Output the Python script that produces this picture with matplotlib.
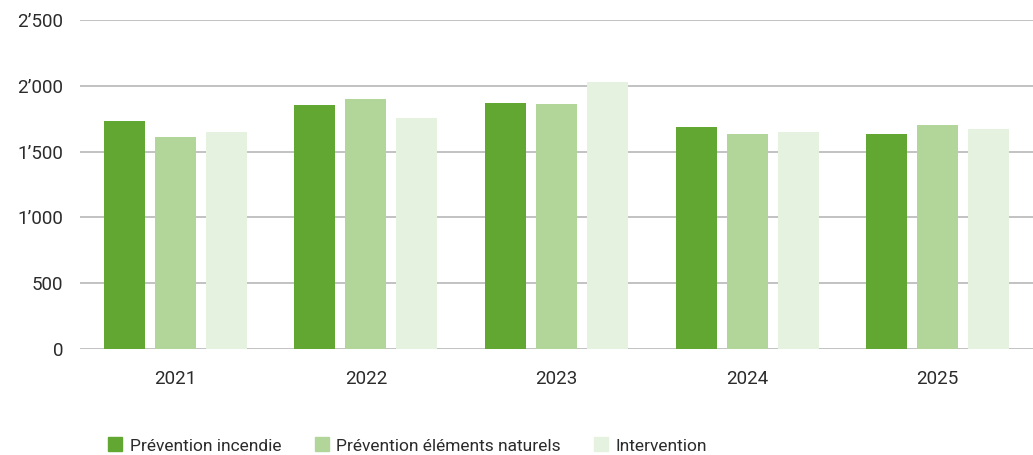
import matplotlib.pyplot as plt
import numpy as np
from matplotlib.ticker import FuncFormatter
from matplotlib.lines import Line2D

plt.rcParams['font.family'] = ['Roboto', 'DejaVu Sans']

# données
annees = ['2021', '2022', '2023', '2024', '2025']
prevention_incendie = [1732, 1854, 1869, 1687, 1634]
prevention_naturels = [1611, 1900, 1862, 1634, 1702]
intervention = [1649, 1755, 2029, 1649, 1672]

series = ['Prévention incendie', 'Prévention éléments naturels', 'Intervention']
couleurs = ['#62a732', '#b2d59a', '#e6f2e0']

fig = plt.figure(figsize=(10.33, 4.55), dpi=100)
ax = fig.add_axes([80/1033, 106/455, 953/1033, 329/455])

x = np.arange(len(annees))
w = 0.215
step = 0.268
for i, (vals, c) in enumerate(zip([prevention_incendie, prevention_naturels, intervention], couleurs)):
    ax.bar(x + (i - 1) * step, vals, width=w, color=c, zorder=3)

ax.set_xlim(-0.5, len(annees) - 0.5)
ax.set_ylim(0, 2500)
ax.set_yticks([0, 500, 1000, 1500, 2000, 2500])
ax.yaxis.set_major_formatter(FuncFormatter(lambda v, p: f"{int(v):,}".replace(',', '’')))
ax.set_xticks(x)
ax.set_xticklabels(annees)
ax.grid(axis='y', color='#bdbdbd', lw=1.3, zorder=0)
for s in ax.spines.values():
    s.set_visible(False)
ax.tick_params(length=0, labelsize=13.5, colors='#2b2b2b')
ax.tick_params(axis='y', pad=12)
ax.tick_params(axis='x', pad=15)

handles = [Line2D([], [], marker='s', ls='', markersize=9.5, color=c) for c in couleurs]
fig.legend(handles, series, loc='center left', bbox_to_anchor=(98/1033, 1 - 446/455), ncol=3,
           frameon=False, fontsize=12.5, handletextpad=0.25, handlelength=1.2,
           columnspacing=1.7, labelcolor='#2b2b2b', borderaxespad=0)

plt.savefig('out.png', dpi=100)
